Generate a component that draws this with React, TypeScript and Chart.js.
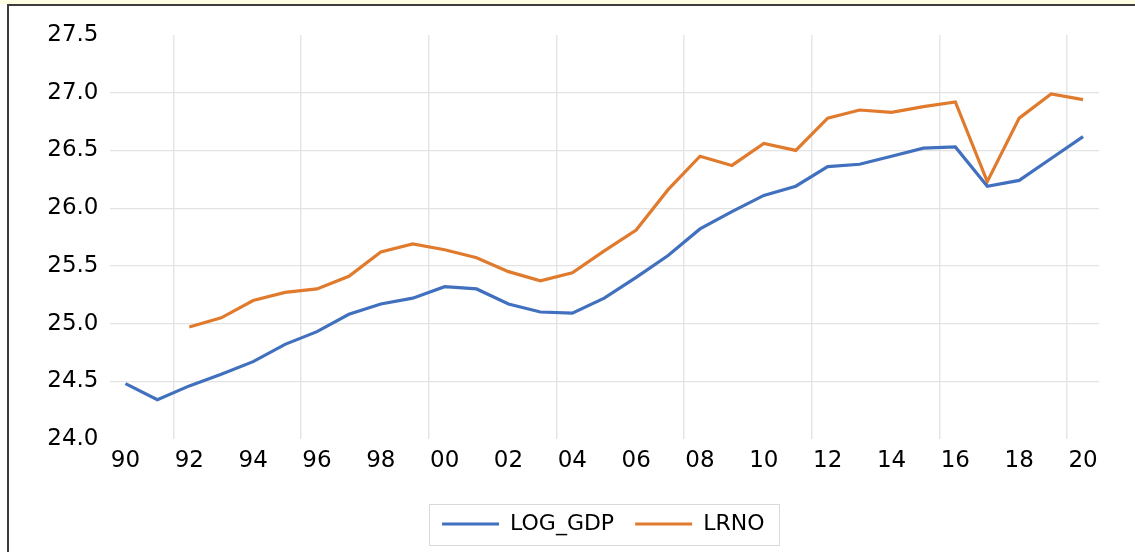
import React, { useEffect, useRef } from "react";
import { Chart, registerables } from "chart.js";

Chart.register(...registerables);

const years = ["90","91","92","93","94","95","96","97","98","99","00","01","02","03","04","05","06","07","08","09","10","11","12","13","14","15","16","17","18","19","20"];

const logGdp = [24.48, 24.34, 24.46, 24.56, 24.67, 24.82, 24.93, 25.08, 25.17, 25.22,
  25.32, 25.30, 25.17, 25.10, 25.09, 25.22, 25.40, 25.59, 25.82, 25.97,
  26.11, 26.19, 26.36, 26.38, 26.45, 26.52, 26.53, 26.19, 26.24, 26.43, 26.62];

const lrno = [null, null, 24.97, 25.05, 25.20, 25.27, 25.30, 25.41, 25.62, 25.69,
  25.64, 25.57, 25.45, 25.37, 25.44, 25.63, 25.81, 26.16, 26.45, 26.37,
  26.56, 26.50, 26.78, 26.85, 26.83, 26.88, 26.92, 26.23, 26.78, 26.99, 26.94];

const seriesNames = ["LOG_GDP", "LRNO"];
const seriesColors = ["#4170BF", "#E07B2E"];

const yMin = 24.0;
const yMax = 27.5;
const yStep = 0.5;

const FONT = "'DejaVu Sans', Verdana, sans-serif";
const FONT_SIZE = 23;

const legendPlugin = {
  id: "legendFrame",
  afterLayout(chart: any) {
    const lg = chart.legend;
    const ca = chart.chartArea;
    if (!lg || !ca) return;
    const target = (ca.left + ca.right) / 2 - 1;
    const dx = target - (lg.left + lg.right) / 2;
    lg.left += dx;
    lg.right += dx;
  },
  afterDraw(chart: any) {
    const lg = chart.legend;
    if (!lg || !lg.legendHitBoxes || !lg.legendHitBoxes.length) return;
    const hb = lg.legendHitBoxes;
    const first = hb[0];
    const last = hb[hb.length - 1];
    const ctx = chart.ctx;
    const cy = first.top + first.height / 2;
    ctx.save();
    ctx.strokeStyle = "#D9D9D9";
    ctx.lineWidth = 1;
    ctx.strokeRect(Math.round(first.left - 13) + 0.5, Math.round(cy - 20) + 0.5, Math.round(last.left + last.width + 15 - (first.left - 13)), 41);
    ctx.restore();
  },
};

export default function App() {
  const ref = useRef<HTMLCanvasElement | null>(null);

  useEffect(() => {
    document.body.style.margin = "0";
    const canvas = ref.current;
    if (!canvas) return;
    const chart = new Chart(canvas, {
      type: "line",
      data: {
        labels: years,
        datasets: [
          {
            label: seriesNames[0],
            data: logGdp,
            borderColor: seriesColors[0],
            backgroundColor: seriesColors[0],
            borderWidth: 3.2,
            pointRadius: 0,
            tension: 0,
          },
          {
            label: seriesNames[1],
            data: lrno as any,
            borderColor: seriesColors[1],
            backgroundColor: seriesColors[1],
            borderWidth: 3.2,
            pointRadius: 0,
            tension: 0,
          },
        ],
      },
      options: {
        responsive: false,
        animation: false,
        devicePixelRatio: 1,
        layout: { padding: { left: 9.5, right: 36, top: 35, bottom: 7 } },
        font: { family: FONT },
        scales: {
          x: {
            type: "category",
            offset: true,
            border: { display: false },
            grid: {
              offset: true,
              drawTicks: false,
              lineWidth: 1.5,
              color: (c: any) => (c.index % 4 === 2 ? "#E6E6E6" : "rgba(0,0,0,0)"),
            },
            ticks: {
              autoSkip: false,
              maxRotation: 0,
              minRotation: 0,
              padding: 8,
              color: "#000",
              font: { family: FONT, size: FONT_SIZE },
              callback: (_v: any, i: number) => (i % 2 === 0 ? years[i] : ""),
            },
            afterFit: (s: any) => {
              s.height = 53;
            },
          },
          y: {
            min: yMin,
            max: yMax,
            border: { display: false },
            grid: {
              drawTicks: false,
              lineWidth: 1.2,
              color: (c: any) => {
                const v = c.tick ? c.tick.value : null;
                if (v === null || v <= yMin + 1e-6 || v >= yMax - 1e-6) return "rgba(0,0,0,0)";
                return "#E3E3E3";
              },
            },
            ticks: {
              stepSize: yStep,
              padding: 11,
              color: "#000",
              font: { family: FONT, size: FONT_SIZE },
              callback: (v: any) => Number(v).toFixed(1),
            },
            afterFit: (s: any) => {
              s.width = 100;
            },
          },
        },
        plugins: {
          title: { display: false },
          tooltip: { enabled: false },
          legend: {
            display: true,
            position: "bottom",
            labels: {
              boxWidth: 57,
              boxHeight: 3,
              padding: 21,
              color: "#000",
              font: { family: FONT, size: 22 },
              generateLabels: (ch: any) =>
                Chart.defaults.plugins.legend.labels.generateLabels(ch).map((it: any) => ({ ...it, lineWidth: 0 })),
            },
          },
        },
      },
      plugins: [legendPlugin],
    } as any);
    return () => chart.destroy();
  }, []);

  return (
    <div style={{ position: "fixed", left: 0, top: 0, width: 1135, height: 552, background: "#fff", overflow: "hidden" }}>
      <div style={{ position: "absolute", left: 0, top: 0, width: 1135, height: 4, background: "#FFFDE3" }} />
      <div style={{ position: "absolute", left: 7, top: 4, width: 1128, height: 2, background: "#3C3C3C" }} />
      <div style={{ position: "absolute", left: 7, top: 4, width: 2, height: 548, background: "#3C3C3C" }} />
      <canvas ref={ref} width={1135} height={552} style={{ position: "absolute", left: 0, top: 0, width: 1135, height: 552 }} />
    </div>
  );
}
